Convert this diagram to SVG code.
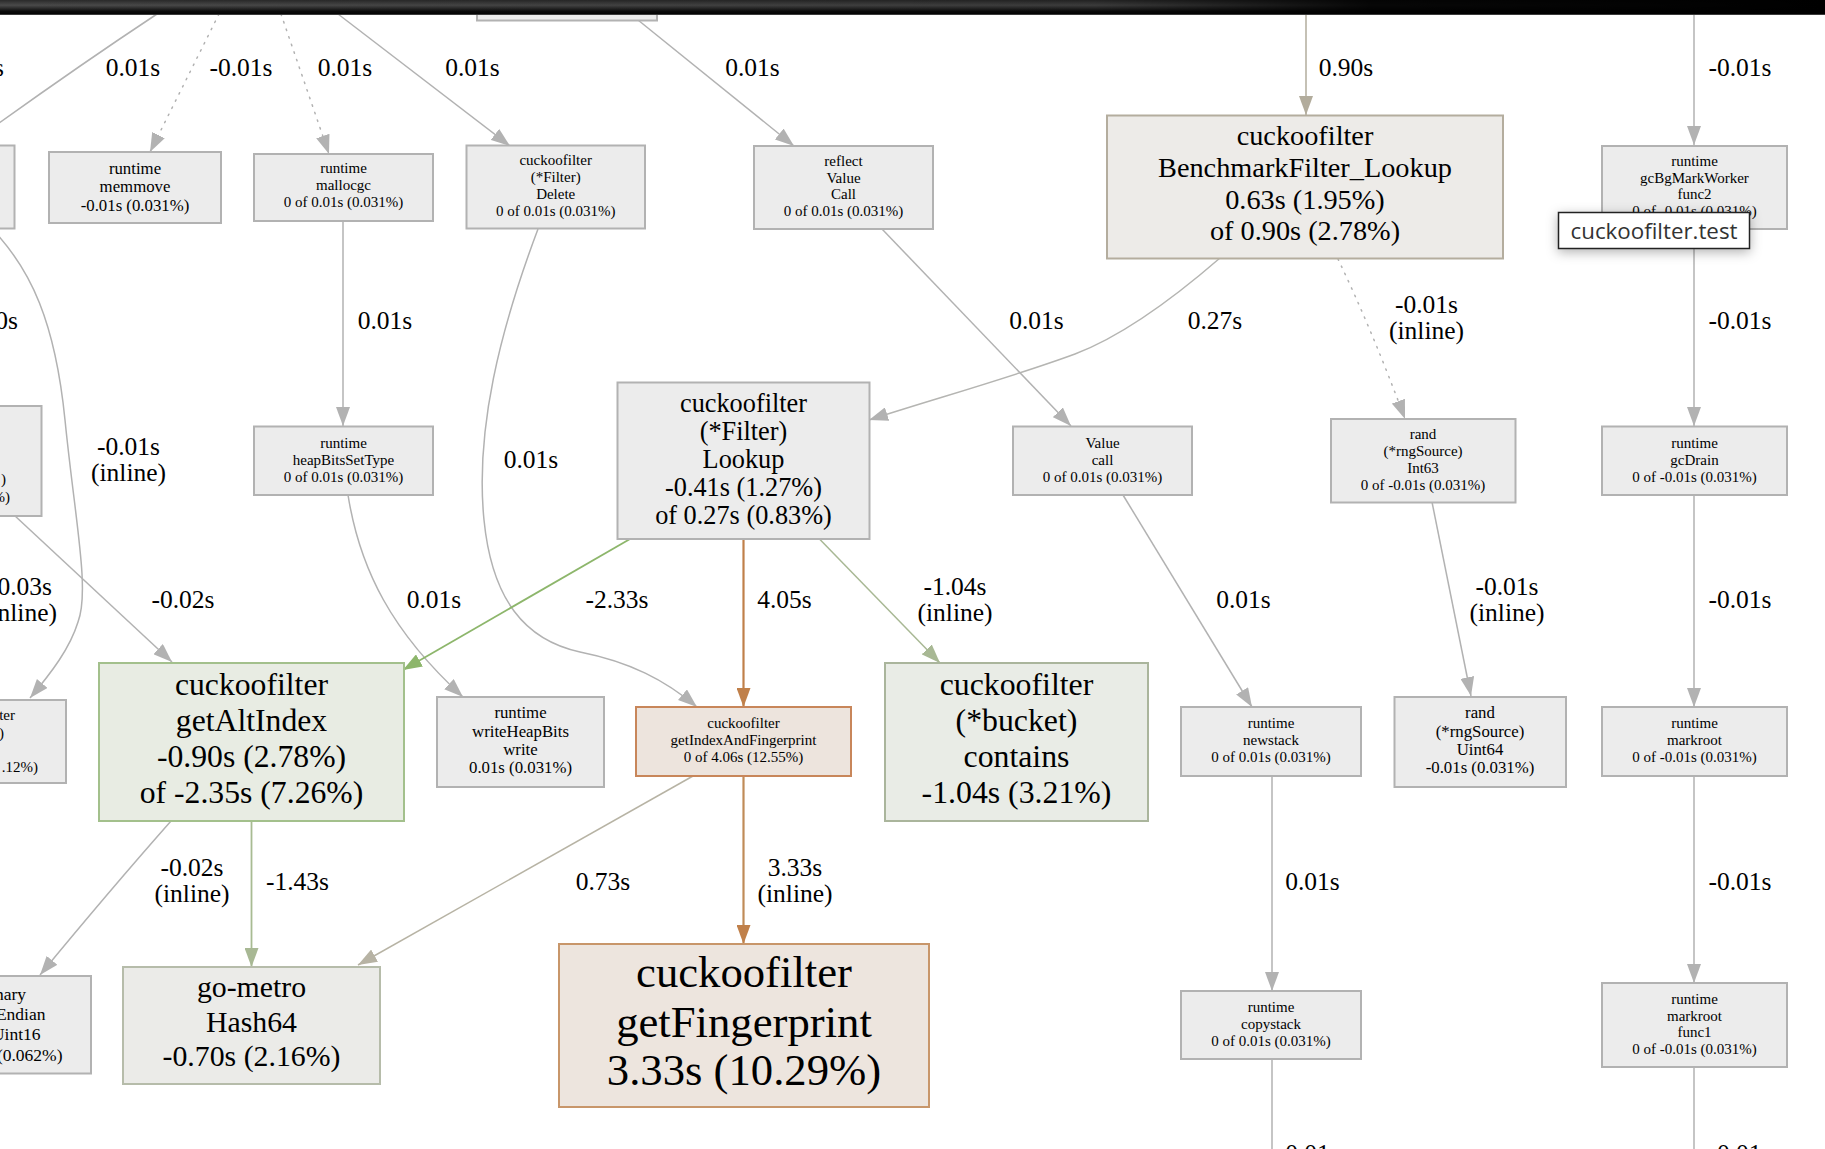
<svg xmlns="http://www.w3.org/2000/svg" width="1825" height="1149" viewBox="0 0 1825 1149">
<style>
text{font-family:"Liberation Serif","Times New Roman",serif;fill:#000;text-anchor:middle}
.e{font-size:25.5px}
.r{text-anchor:end}
.nd{fill:#ececec;stroke:#b2b2b2;stroke-width:2}
.s15{font-size:15px}
.s17{font-size:16.8px}
.c{fill:none;stroke:#b2b2b2;stroke-width:1.5}
.dot{stroke-dasharray:1.5 6.5;stroke-linecap:round}
</style>
<defs>
<marker id="ag" markerUnits="userSpaceOnUse" markerWidth="20" markerHeight="14" refX="19" refY="7" orient="auto"><path d="M0,0 L19,7 L0,14 z" fill="#b2b2b2"/></marker>
<marker id="aw" markerUnits="userSpaceOnUse" markerWidth="20" markerHeight="14" refX="19" refY="7" orient="auto"><path d="M0,0 L19,7 L0,14 z" fill="#b2ac9c"/></marker>
<marker id="agr" markerUnits="userSpaceOnUse" markerWidth="20" markerHeight="14" refX="19" refY="7" orient="auto"><path d="M0,0 L19,7 L0,14 z" fill="#8db66b"/></marker>
<marker id="ao" markerUnits="userSpaceOnUse" markerWidth="20" markerHeight="14" refX="19" refY="7" orient="auto"><path d="M0,0 L19,7 L0,14 z" fill="#c0804a"/></marker>
<marker id="agg" markerUnits="userSpaceOnUse" markerWidth="20" markerHeight="14" refX="19" refY="7" orient="auto"><path d="M0,0 L19,7 L0,14 z" fill="#a8b894"/></marker>
<marker id="awg" markerUnits="userSpaceOnUse" markerWidth="20" markerHeight="14" refX="19" refY="7" orient="auto"><path d="M0,0 L19,7 L0,14 z" fill="#b7b3a4"/></marker>
<linearGradient id="barV" x1="0" y1="0" x2="0" y2="1"><stop offset="0" stop-color="#2a2a2a"/><stop offset="0.35" stop-color="#4a4a4a"/><stop offset="0.75" stop-color="#0c0c0c"/><stop offset="1" stop-color="#000"/></linearGradient>
<linearGradient id="barH" x1="0" y1="0" x2="1" y2="0"><stop offset="0" stop-color="#000" stop-opacity="0"/><stop offset="0.6" stop-color="#000" stop-opacity="0.2"/><stop offset="0.75" stop-color="#000" stop-opacity="0.9"/><stop offset="1" stop-color="#000" stop-opacity="1"/></linearGradient>
<filter id="sh" x="-20%" y="-60%" width="140%" height="220%"><feDropShadow dx="0" dy="3" stdDeviation="6" flood-color="#000" flood-opacity="0.3"/></filter>
</defs>
<rect x="0" y="0" width="1825" height="1149" fill="#fff"/>

<g id="connectors">
<path class="c" d="M157,14 Q80,65 -5,126"/>
<path class="c dot" d="M219,14 L150,152" marker-end="url(#ag)"/>
<path class="c dot" d="M281,14 L329,154" marker-end="url(#ag)"/>
<path class="c" d="M338,14 L510,146" marker-end="url(#ag)"/>
<path class="c" d="M638,20 L794,146" marker-end="url(#ag)"/>
<path class="c" style="stroke:#b2ac9c" d="M1306,14 L1306,115" marker-end="url(#aw)"/>
<path class="c" d="M1694,14 L1694,145" marker-end="url(#ag)"/>
<path class="c" d="M1694,229 L1694,426" marker-end="url(#ag)"/>
<path class="c" d="M1694,495 L1694,707" marker-end="url(#ag)"/>
<path class="c" d="M1694,776 L1694,983" marker-end="url(#ag)"/>
<path class="c" d="M1694,1067 L1694,1160"/>
<path class="c" d="M1272,776 L1272,991" marker-end="url(#ag)"/>
<path class="c" d="M1272,1059 L1272,1160"/>
<path class="c" style="stroke:#b5b5b2" d="M1220,258 C1160,310 1112,340 1075,354 C1010,378 930,400 869,420" marker-end="url(#ag)"/>
<path class="c dot" d="M1338,259 Q1372,330 1405,419" marker-end="url(#ag)"/>
<path class="c" d="M882,229 L1071,426" marker-end="url(#ag)"/>
<path class="c" d="M1123,495 L1252,707" marker-end="url(#ag)"/>
<path class="c" d="M1432,502 L1471,696" marker-end="url(#ag)"/>
<path class="c" d="M343,221 L343,426" marker-end="url(#ag)"/>
<path class="c" d="M348,495 C360,570 392,632 463,697" marker-end="url(#ag)"/>
<path class="c" d="M538,229 C500,330 475,430 484,520 C492,600 525,640 580,652 C630,662 665,680 697,707" marker-end="url(#ag)"/>
<path class="c" style="stroke:#8db66b;stroke-width:1.8" d="M630,539 L403,670" marker-end="url(#agr)"/>
<path class="c" style="stroke:#c0804a;stroke-width:2.2" d="M743.5,539 L743.5,707" marker-end="url(#ao)"/>
<path class="c" style="stroke:#a8b894" d="M819.5,539 L940,663" marker-end="url(#agg)"/>
<path class="c" style="stroke:#c08b58;stroke-width:2.2" d="M743.5,776 L743.5,944" marker-end="url(#ao)"/>
<path class="c" style="stroke:#b7b3a4" d="M693,776 L358,965" marker-end="url(#awg)"/>
<path class="c" style="stroke:#a8bb92;stroke-width:1.8" d="M251.5,821 L251.5,967" marker-end="url(#agg)"/>
<path class="c" d="M171,821 Q110,890 40,975" marker-end="url(#ag)"/>
<path class="c" d="M14,515 L172,662" marker-end="url(#ag)"/>
<path class="c" d="M-5,232 C30,270 55,320 65,420 C75,520 90,590 78,622 C70,648 52,672 30,698" marker-end="url(#ag)"/>

<text class="e r" x="4" y="76">s</text>
<text class="e" x="133" y="76">0.01s</text>
<text class="e" x="241" y="76">-0.01s</text>
<text class="e" x="345" y="76">0.01s</text>
<text class="e" x="472.5" y="76">0.01s</text>
<text class="e" x="752.5" y="76">0.01s</text>
<text class="e" x="1346" y="76">0.90s</text>
<text class="e" x="1740" y="76">-0.01s</text>

<text class="e r" x="18" y="329">0s</text>
<text class="e" x="385" y="329">0.01s</text>
<text class="e" x="1036.5" y="329">0.01s</text>
<text class="e" x="1215" y="329">0.27s</text>
<text class="e" x="1426.5" y="313">-0.01s</text>
<text class="e" x="1426.5" y="339">(inline)</text>
<text class="e" x="1740" y="329">-0.01s</text>

<text class="e" x="128.5" y="455">-0.01s</text>
<text class="e" x="128.5" y="481">(inline)</text>
<text class="e" x="531" y="468">0.01s</text>

<text class="e r" x="52" y="595">-0.03s</text>
<text class="e r" x="57" y="621">(inline)</text>
<text class="e" x="183" y="608">-0.02s</text>
<text class="e" x="434" y="608">0.01s</text>
<text class="e" x="617" y="608">-2.33s</text>
<text class="e" x="784.5" y="608">4.05s</text>
<text class="e" x="955" y="595">-1.04s</text>
<text class="e" x="955" y="621">(inline)</text>
<text class="e" x="1243.5" y="608">0.01s</text>
<text class="e" x="1507" y="595">-0.01s</text>
<text class="e" x="1507" y="621">(inline)</text>
<text class="e" x="1740" y="608">-0.01s</text>

<text class="e" x="192" y="876">-0.02s</text>
<text class="e" x="192" y="902">(inline)</text>
<text class="e" x="297.5" y="890">-1.43s</text>
<text class="e" x="603" y="890">0.73s</text>
<text class="e" x="795" y="876">3.33s</text>
<text class="e" x="795" y="902">(inline)</text>
<text class="e" x="1312.5" y="890">0.01s</text>
<text class="e" x="1740" y="890">-0.01s</text>
<text class="e" x="1312.5" y="1162">0.01s</text>
<text class="e" x="1740" y="1162">-0.01s</text>
</g>

<g id="n_top"><rect class="nd" x="477" y="-40" width="180" height="60.5"/></g>
<g id="n_leftA"><rect class="nd" x="-60" y="145.5" width="74.5" height="83"/></g>
<g id="n_memmove"><rect class="nd" x="49" y="152" width="172" height="71"/>
<text style="font-size:16.8px" x="135" y="173.5">runtime</text><text style="font-size:16.8px" x="135" y="192">memmove</text><text style="font-size:16.8px" x="135" y="210.5">-0.01s (0.031%)</text></g>
<g id="n_mallocgc"><rect class="nd" x="254" y="154" width="179" height="67"/>
<text class="s15" x="343.5" y="173">runtime</text><text class="s15" x="343.5" y="190">mallocgc</text><text class="s15" x="343.5" y="207">0 of 0.01s (0.031%)</text></g>
<g id="n_delete"><rect class="nd" x="466.5" y="145.5" width="178.5" height="83"/>
<text class="s15" x="555.7" y="165">cuckoofilter</text><text class="s15" x="555.7" y="182">(*Filter)</text><text class="s15" x="555.7" y="199">Delete</text><text class="s15" x="555.7" y="216">0 of 0.01s (0.031%)</text></g>
<g id="n_reflectcall"><rect class="nd" x="754" y="146" width="179" height="83"/>
<text class="s15" x="843.5" y="166">reflect</text><text class="s15" x="843.5" y="183">Value</text><text class="s15" x="843.5" y="199">Call</text><text class="s15" x="843.5" y="216">0 of 0.01s (0.031%)</text></g>
<g id="n_bench"><rect x="1107" y="115.5" width="396" height="143" fill="#edebe8" stroke="#b4ad9e" stroke-width="2"/>
<text style="font-size:28.3px" x="1305" y="145">cuckoofilter</text><text style="font-size:28.3px" x="1305" y="177">BenchmarkFilter_Lookup</text><text style="font-size:28.3px" x="1305" y="208.5">0.63s (1.95%)</text><text style="font-size:28.3px" x="1305" y="240">of 0.90s (2.78%)</text></g>
<g id="n_gcbg"><rect class="nd" x="1602" y="146" width="185" height="83"/>
<text class="s15" x="1694.5" y="166">runtime</text><text class="s15" x="1694.5" y="183">gcBgMarkWorker</text><text class="s15" x="1694.5" y="199">func2</text><text class="s15" x="1694.5" y="215.5">0 of -0.01s (0.031%)</text></g>
<g id="n_leftH"><rect class="nd" x="-60" y="406" width="101.5" height="110"/>
<text class="s15 r" x="6" y="484">)</text><text class="s15 r" x="10" y="502">%)</text></g>
<g id="n_heapbits"><rect class="nd" x="254" y="426.5" width="179" height="68.5"/>
<text class="s15" x="343.5" y="448">runtime</text><text class="s15" x="343.5" y="465">heapBitsSetType</text><text class="s15" x="343.5" y="482">0 of 0.01s (0.031%)</text></g>
<g id="n_lookup"><rect class="nd" x="617.5" y="382.5" width="252" height="156.5"/>
<text style="font-size:26.3px" x="743.5" y="412">cuckoofilter</text><text style="font-size:26.3px" x="743.5" y="440">(*Filter)</text><text style="font-size:26.3px" x="743.5" y="468">Lookup</text><text style="font-size:26.3px" x="743.5" y="496">-0.41s (1.27%)</text><text style="font-size:26.3px" x="743.5" y="524">of 0.27s (0.83%)</text></g>
<g id="n_valuecall"><rect class="nd" x="1013" y="426.5" width="179" height="68.5"/>
<text class="s15" x="1102.5" y="448">Value</text><text class="s15" x="1102.5" y="465">call</text><text class="s15" x="1102.5" y="482">0 of 0.01s (0.031%)</text></g>
<g id="n_int63"><rect class="nd" x="1331" y="419" width="184.5" height="83.5"/>
<text class="s15" x="1423" y="439">rand</text><text class="s15" x="1423" y="456">(*rngSource)</text><text class="s15" x="1423" y="473">Int63</text><text class="s15" x="1423" y="490">0 of -0.01s (0.031%)</text></g>
<g id="n_gcdrain"><rect class="nd" x="1602" y="426.5" width="185" height="68.5"/>
<text class="s15" x="1694.5" y="448">runtime</text><text class="s15" x="1694.5" y="465">gcDrain</text><text class="s15" x="1694.5" y="482">0 of -0.01s (0.031%)</text></g>
<g id="n_altindex"><rect x="99" y="663" width="305" height="158" fill="#e8ece3" stroke="#a3c08c" stroke-width="2"/>
<text style="font-size:31.7px" x="251.5" y="695">cuckoofilter</text><text style="font-size:31.7px" x="251.5" y="731">getAltIndex</text><text style="font-size:31.7px" x="251.5" y="767">-0.90s (2.78%)</text><text style="font-size:31.7px" x="251.5" y="803">of -2.35s (7.26%)</text></g>
<g id="n_writeheap"><rect class="nd" x="437" y="697" width="167" height="90"/>
<text class="s17" x="520.5" y="718">runtime</text><text class="s17" x="520.5" y="736.5">writeHeapBits</text><text class="s17" x="520.5" y="755">write</text><text class="s17" x="520.5" y="773">0.01s (0.031%)</text></g>
<g id="n_getidx"><rect x="636" y="707" width="215" height="69" fill="#ede4dd" stroke="#c8865a" stroke-width="2"/>
<text class="s15" x="743.5" y="728">cuckoofilter</text><text class="s15" x="743.5" y="745">getIndexAndFingerprint</text><text class="s15" x="743.5" y="761.5">0 of 4.06s (12.55%)</text></g>
<g id="n_contains"><rect x="885" y="663" width="263" height="158" fill="#e9ece6" stroke="#aab59c" stroke-width="2"/>
<text style="font-size:31.8px" x="1016.5" y="695">cuckoofilter</text><text style="font-size:31.8px" x="1016.5" y="731">(*bucket)</text><text style="font-size:31.8px" x="1016.5" y="767">contains</text><text style="font-size:31.8px" x="1016.5" y="803">-1.04s (3.21%)</text></g>
<g id="n_newstack"><rect class="nd" x="1181" y="707" width="180" height="69"/>
<text class="s15" x="1271" y="728">runtime</text><text class="s15" x="1271" y="745">newstack</text><text class="s15" x="1271" y="761.5">0 of 0.01s (0.031%)</text></g>
<g id="n_uint64"><rect class="nd" x="1394.5" y="697" width="171.5" height="90"/>
<text class="s17" x="1480" y="718">rand</text><text class="s17" x="1480" y="736.5">(*rngSource)</text><text class="s17" x="1480" y="755">Uint64</text><text class="s17" x="1480" y="773">-0.01s (0.031%)</text></g>
<g id="n_markroot"><rect class="nd" x="1602" y="707" width="185" height="69"/>
<text class="s15" x="1694.5" y="728">runtime</text><text class="s15" x="1694.5" y="745">markroot</text><text class="s15" x="1694.5" y="761.5">0 of -0.01s (0.031%)</text></g>
<g id="n_leftU"><rect class="nd" x="-60" y="700" width="126" height="83"/>
<text class="s15 r" x="15" y="720">ter</text><text class="s15 r" x="4" y="738">)</text><text class="s15 r" x="38" y="772">.12%)</text></g>
<g id="n_binary"><rect class="nd" x="-60" y="976" width="151" height="97.5"/>
<text class="r" style="font-size:17.5px" x="26" y="1000">binary</text><text class="r" style="font-size:17.5px" x="45.5" y="1020">littleEndian</text><text class="r" style="font-size:17.5px" x="40.5" y="1040">Uint16</text><text class="r" style="font-size:17.5px" x="62.5" y="1061">-0.02s (0.062%)</text></g>
<g id="n_hash64"><rect x="123" y="967" width="257" height="117" fill="#ebebe8" stroke="#b6bcaa" stroke-width="2"/>
<text style="font-size:29.8px" x="251.5" y="997">go-metro</text><text style="font-size:29.8px" x="251.5" y="1031.5">Hash64</text><text style="font-size:29.8px" x="251.5" y="1066">-0.70s (2.16%)</text></g>
<g id="n_getfp"><rect x="559" y="944" width="370" height="163" fill="#ede5de" stroke="#c8966a" stroke-width="2"/>
<text style="font-size:44.7px" x="744" y="987">cuckoofilter</text><text style="font-size:44.7px" x="744" y="1037">getFingerprint</text><text style="font-size:44.7px" x="744" y="1085">3.33s (10.29%)</text></g>
<g id="n_copystack"><rect class="nd" x="1181" y="991" width="180" height="68"/>
<text class="s15" x="1271" y="1012">runtime</text><text class="s15" x="1271" y="1029">copystack</text><text class="s15" x="1271" y="1046">0 of 0.01s (0.031%)</text></g>
<g id="n_markrootf1"><rect class="nd" x="1602" y="983" width="185" height="84"/>
<text class="s15" x="1694.5" y="1004">runtime</text><text class="s15" x="1694.5" y="1020.5">markroot</text><text class="s15" x="1694.5" y="1037">func1</text><text class="s15" x="1694.5" y="1054">0 of -0.01s (0.031%)</text></g>

<g id="topbar">
<rect x="0" y="0" width="1825" height="15" fill="url(#barV)"/>
<rect x="0" y="0" width="1825" height="15" fill="url(#barH)"/>
<line x1="0" y1="14.5" x2="1825" y2="14.5" stroke="#3a3a3a" stroke-width="1"/>
</g>

<g id="tooltip">
<rect x="1558.5" y="212.5" width="191" height="36" fill="#fff" stroke="#222" stroke-width="1.5" filter="url(#sh)"/>
<text x="1654" y="238.5" style="font-family:'Open Sans','Noto Sans',sans-serif;font-size:22.5px;fill:#333" textLength="167" lengthAdjust="spacingAndGlyphs">cuckoofilter.test</text>
</g>
</svg>
